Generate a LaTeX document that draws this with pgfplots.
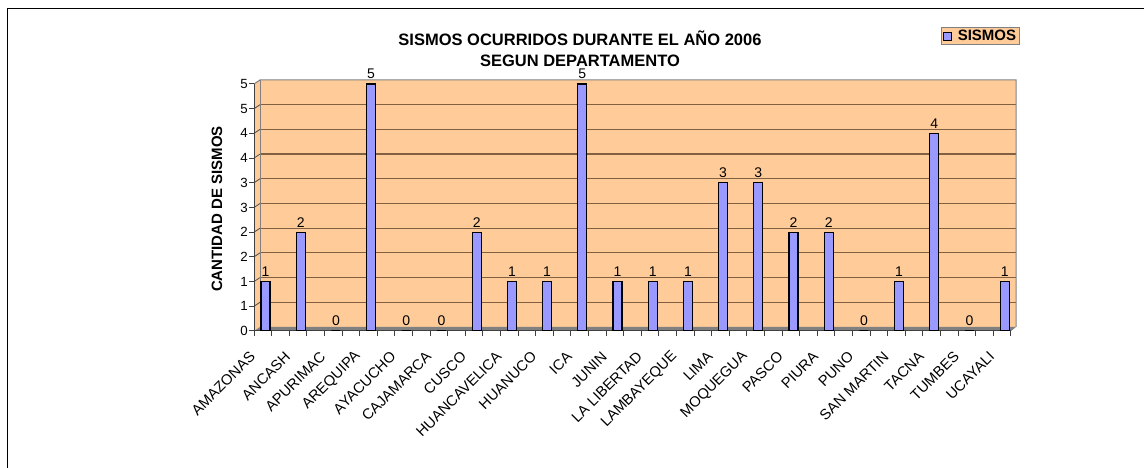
\documentclass[border=0pt]{standalone}
\usepackage{fontspec}
\setmainfont{Liberation Sans}
\usepackage{pgfplots}
\pgfplotsset{compat=1.18}
\definecolor{wall}{HTML}{FFCC99}
\definecolor{barblue}{HTML}{9999FF}
\definecolor{gridc}{RGB}{128,96,64}
\definecolor{floorc}{HTML}{808080}
\begin{document}
\begin{tikzpicture}[x=1bp,y=1bp]
\useasboundingbox (0,0) rectangle (1144,468);
\fill[white] (0,0) rectangle (1144,468);
\draw[line width=1bp] (1144,459) -- (7.5,459) -- (7.5,0);
% back wall, side wall and floor (3-D decoration)
\fill[wall] (260,141) rectangle (1016,388);
\fill[wall] (254,137) -- (260,141) -- (260,388) -- (254,384) -- cycle;
\fill[floorc] (254,137) -- (1011,137) -- (1016,141) -- (260,141) -- cycle;
\foreach \v in {0.5,1,...,4.5} {
  \draw[gridc, line width=1.2bp] (260,{141+49.4*\v}) -- (1016,{141+49.4*\v});
  \draw[black!70, line width=0.8bp] (254,{137+49.4*\v}) -- (260,{141+49.4*\v});
}
\draw[floorc, line width=1bp] (254,384) -- (260,388) -- (1016,388) -- (1016,141);
\draw[floorc, line width=0.8bp] (260,141) -- (260,388);
% titles
\node[anchor=base, font=\bfseries\fontsize{16.5bp}{19bp}\selectfont] at (580,422) {SISMOS OCURRIDOS DURANTE EL AÑO 2006};
\node[anchor=base, font=\bfseries\fontsize{16.5bp}{19bp}\selectfont] at (580,401) {SEGUN DEPARTAMENTO};
\begin{axis}[
  at={(254bp,137bp)}, anchor=south west, scale only axis,
  width=757bp, height=247bp,
  xmin=-0.3267, xmax=21.179, ymin=0, ymax=5,
  axis x line*=bottom, axis y line*=left,
  axis line style={-, black!75, line width=1bp},
  tick align=outside, major tick length=5bp,
  tick style={black!75, line width=1bp},
  /pgf/number format/assume math mode=true,
  ytick={0,0.5,...,5}, yticklabels={0,1,1,2,2,3,3,4,4,5,5},
  yticklabel style={font=\fontsize{13.3bp}{16bp}\selectfont, inner sep=1bp},
  xtick={-0.3267,0.1733,...,21.2}, xticklabels={},
  extra x ticks={0,1,...,21},
  extra x tick labels={AMAZONAS,ANCASH,APURIMAC,AREQUIPA,AYACUCHO,CAJAMARCA,CUSCO,HUANCAVELICA,HUANUCO,ICA,JUNIN,LA LIBERTAD,LAMBAYEQUE,LIMA,MOQUEGUA,PASCO,PIURA,PUNO,SAN MARTIN,TACNA,TUMBES,UCAYALI},
  extra x tick style={tick style={draw=none},
    xticklabel style={font=\fontsize{14.7bp}{17bp}\selectfont, xshift=-13bp, yshift=-18bp, rotate=45, anchor=east, inner sep=0pt}},
  ylabel={CANTIDAD DE SISMOS},
  every axis y label/.style={at={(axis description cs:-0.0489,0.494)}, rotate=90, anchor=center, font=\bfseries\fontsize{15bp}{18bp}\selectfont},
  ybar, bar width=9bp,
  legend style={at={(axis description cs:0.9075,1.231)}, anchor=north west, fill=wall, draw=floorc, line width=1bp,
    font=\bfseries\fontsize{15bp}{17bp}\selectfont, inner xsep=2bp, inner ysep=1bp,
    nodes={inner sep=1.5bp}},
  legend image code/.code={\draw[fill=barblue, draw=black, line width=0.8bp] (1bp,-4bp) rectangle (9bp,4bp);},
]
\addplot[fill=barblue, draw=black, line width=1.2bp,
  nodes near coords,
  every node near coord/.append style={font=\fontsize{14bp}{16bp}\selectfont, text=black, yshift=1bp}]
  coordinates {(0,1) (1,2) (2,0) (3,5) (4,0) (5,0) (6,2) (7,1) (8,1) (9,5) (10,1)
               (11,1) (12,1) (13,3) (14,3) (15,2) (16,2) (17,0) (18,1) (19,4) (20,0) (21,1)};
\addlegendentry{\hspace{4bp}SISMOS}
\end{axis}
\end{tikzpicture}
\end{document}
